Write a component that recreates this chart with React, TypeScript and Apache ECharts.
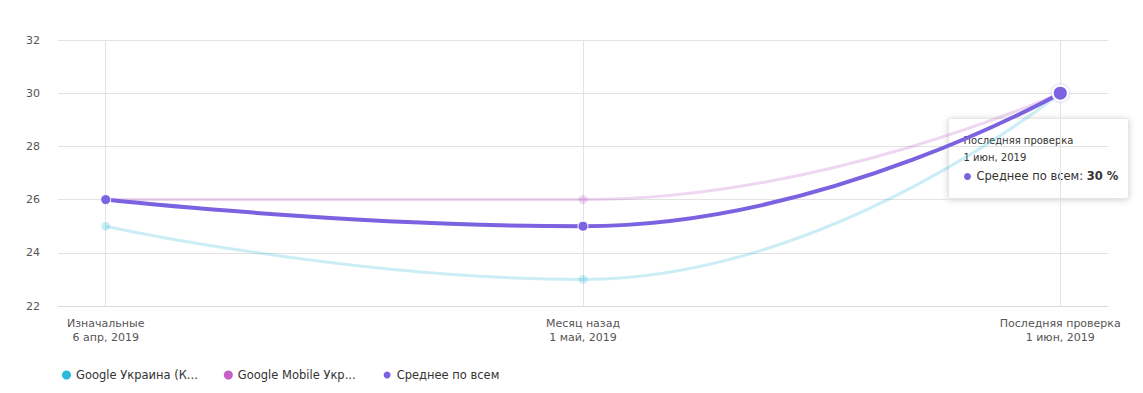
import React, { useEffect, useRef } from "react";
import * as echarts from "echarts";

const categories = ["Изначальные\n6 апр, 2019", "Месяц назад\n1 май, 2019", "Последняя проверка\n1 июн, 2019"];
const seriesNames = ["Google Украина (Киев)", "Google Mobile Украина", "Среднее по всем"];
const googleUa = [25, 23, 30];
const googleMobile = [26, 26, 30];
const average = [26, 25, 30];
const colors = ["#2bb9dc", "#c35fc6", "#7b62e0"];

export default function App() {
  const ref = useRef<HTMLDivElement>(null);
  useEffect(() => {
    const chart = echarts.init(ref.current!, null, { renderer: "svg" });
    const toXY = (arr: number[]) => arr.map((v, i) => [i, v]);
    const font = "'DejaVu Sans', Verdana, sans-serif";
    chart.setOption({
      animation: false,
      grid: { left: 58, right: 35, top: 40, bottom: 87 },
      xAxis: {
        type: "value",
        min: -0.1,
        max: 2.1,
        axisLine: { show: true, lineStyle: { color: "#d8d8d8" } },
        axisTick: { show: false, customValues: [0, 1, 2] },
        axisLabel: {
          customValues: [0, 1, 2],
          formatter: (v: number) => categories[Math.round(v)] ?? "",
          color: "#555",
          fontSize: 11,
          fontFamily: font,
          lineHeight: 14,
          margin: 10,
        },
        splitLine: { show: true, lineStyle: { color: "#e2e2e2" } },
      },
      yAxis: {
        type: "value",
        min: 22,
        max: 32,
        interval: 2,
        axisLine: { show: false },
        axisTick: { show: false },
        axisLabel: { color: "#555", fontSize: 11, fontFamily: font, margin: 18 },
        splitLine: { lineStyle: { color: "#e2e2e2" } },
      },
      legend: {
        left: 57,
        top: 364,
        icon: "circle",
        itemWidth: 9,
        itemHeight: 9,
        itemGap: 26,
        formatter: (n: string) => (n.length > 18 ? n.slice(0, 17) + "..." : n),
        textStyle: { color: "#333", fontSize: 11.5, fontFamily: font },
        data: seriesNames.map((n, i) => ({ name: n, itemStyle: { color: colors[i], opacity: 1 } })),
      },
      series: [
        {
          name: seriesNames[0],
          type: "line",
          smooth: 0.5,
          data: toXY(googleUa),
          color: colors[0],
          lineStyle: { width: 3, opacity: 0.25 },
          itemStyle: { opacity: 0.25 },
          symbol: "circle",
          symbolSize: 9,
        },
        {
          name: seriesNames[1],
          type: "line",
          smooth: 0.5,
          data: toXY(googleMobile),
          color: colors[1],
          lineStyle: { width: 3, opacity: 0.25 },
          itemStyle: { opacity: 0.25 },
          symbol: "circle",
          symbolSize: 9,
        },
        {
          name: seriesNames[2],
          type: "line",
          smooth: 0.5,
          color: colors[2],
          data: average.map((v, i) =>
            i === average.length - 1
              ? { value: [i, v], symbolSize: 15, itemStyle: { borderColor: "#fff", borderWidth: 2, shadowColor: "rgba(123,98,224,0.5)", shadowBlur: 3 } }
              : { value: [i, v] }
          ),
          lineStyle: { width: 4 },
          symbol: "circle",
          symbolSize: 10,
          itemStyle: { borderColor: "#fff", borderWidth: 1 },
          z: 5,
        },
      ],
      graphic: [
        {
          type: "group",
          left: 948,
          top: 118,
          z: 100,
          children: [
            {
              type: "rect",
              shape: { x: 0, y: 0, width: 180, height: 80, r: 2 },
              style: { fill: "#fff", stroke: "#e6e6e6", lineWidth: 1, shadowColor: "rgba(0,0,0,0.18)", shadowBlur: 6, shadowOffsetY: 1 },
            },
            { type: "text", x: 15, y: 17, style: { text: "Последняя проверка", fill: "#333", font: `10px ${font}` } },
            { type: "text", x: 15, y: 34, style: { text: "1 июн, 2019", fill: "#333", font: `10px ${font}` } },
            { type: "circle", shape: { cx: 19, cy: 58, r: 3.5 }, style: { fill: colors[2] } },
            {
              type: "text",
              x: 28,
              y: 51,
              style: {
                text: "{a|Среднее по всем: }{b|30 %}",
                rich: {
                  a: { fill: "#333", font: `11.5px ${font}` },
                  b: { fill: "#333", font: `bold 11.5px ${font}` },
                },
              },
            },
          ],
        },
      ],
    });
    return () => chart.dispose();
  }, []);
  return <div ref={ref} style={{ width: 1143, height: 393, position: "absolute", left: 0, top: 0, background: "#fff" }} />;
}
